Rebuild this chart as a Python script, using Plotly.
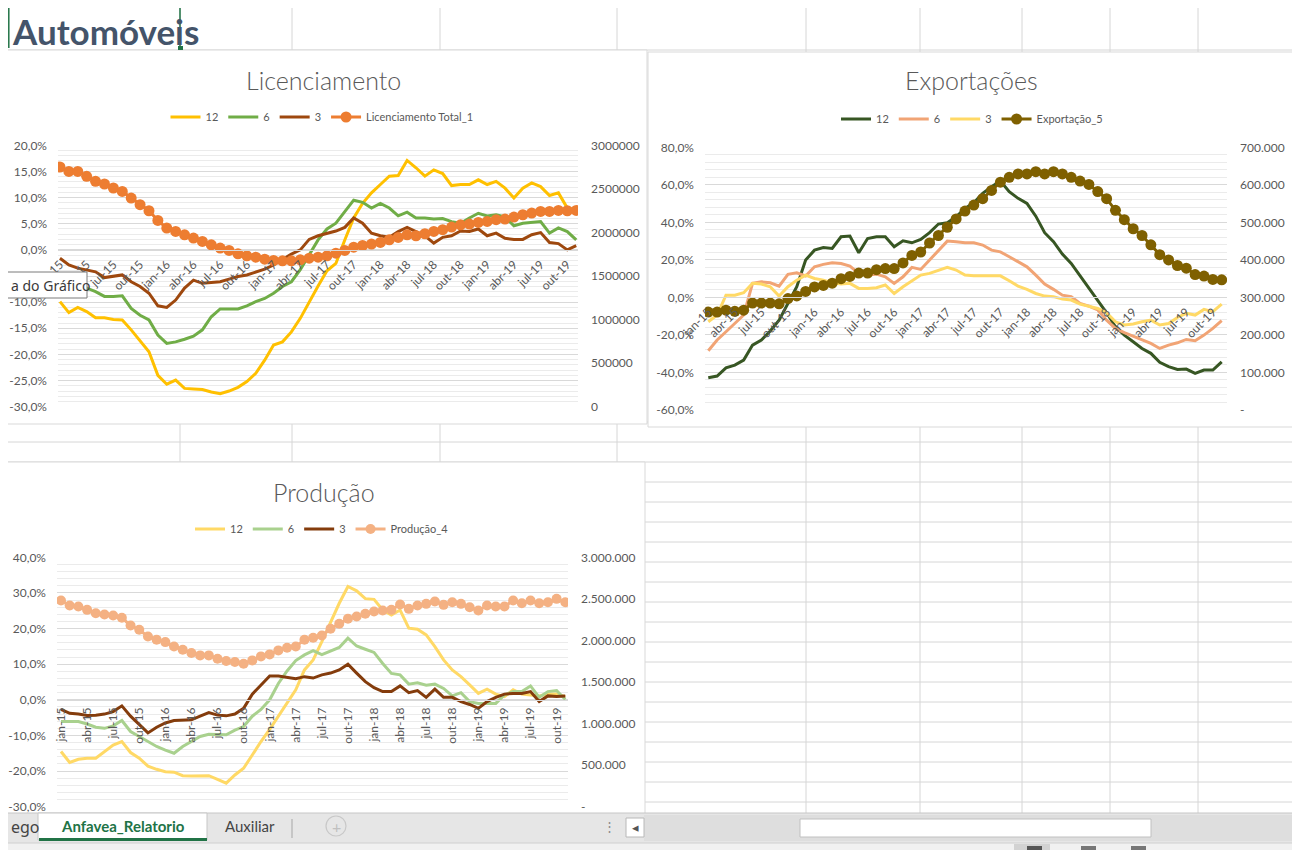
import plotly.graph_objects as go

# The page shows the figure with the browser's default 8 px body margin,
# so the figure is 1292x842 and every screen pixel coordinate is shifted by 8.
OFF = 8
W, H = 1300 - OFF, 850 - OFF

# ---------------- categories ----------------
MESES = ["jan", "fev", "mar", "abr", "mai", "jun", "jul", "ago", "set", "out", "nov", "dez"]
ANOS = ["15", "16", "17", "18", "19"]
categorias = [f"{m}-{a}" for a in ANOS for m in MESES][:59]
rotulos_x = categorias[::3]

# ---------------- Licenciamento ----------------
lic_12 = [-9.9, -12.0, -11.0, -11.8, -13.0, -13.0, -13.3, -13.4, -15.3, -17.3,
          -19.5, -24.0, -25.7, -24.9, -26.5, -26.6, -26.7, -27.2, -27.5, -27.0,
          -26.3, -25.2, -23.6, -21.1, -18.2, -17.6, -15.7, -13.1, -9.9, -6.9,
          -4.0, -2.6, 1.9, 6.1, 8.9, 10.9, 12.5, 14.1, 14.2, 17.1,
          15.7, 14.1, 15.3, 14.6, 12.3, 12.5, 12.5, 13.4, 12.5, 13.1,
          11.8, 9.9, 11.8, 12.8, 12.1, 10.4, 10.9, 8.0, 7.7]
lic_6 = [-4.5, -5.4, -6.1, -7.3, -8.0, -8.9, -8.9, -8.8, -11.2, -12.5,
         -13.4, -16.3, -17.9, -17.6, -17.1, -16.5, -15.3, -12.8, -11.3, -11.3,
         -11.3, -10.7, -9.9, -9.3, -8.3, -7.0, -6.1, -3.8, -1.0, 1.9,
         4.0, 5.1, 7.3, 9.5, 9.1, 8.0, 8.9, 8.0, 6.5, 7.2,
         6.1, 6.1, 5.9, 6.0, 5.4, 5.1, 6.1, 7.0, 6.5, 6.7,
         6.3, 4.6, 5.1, 5.2, 5.4, 3.2, 4.2, 3.5, 1.9]
lic_3 = [-1.6, -2.9, -3.5, -3.8, -4.2, -5.3, -5.1, -4.8, -6.1, -7.0,
         -8.3, -10.7, -11.0, -9.6, -7.3, -5.8, -6.4, -6.3, -6.1, -5.6,
         -5.1, -4.8, -4.3, -3.7, -2.9, -1.8, -0.8, 0.0, 2.0, 2.7,
         3.2, 3.6, 4.3, 6.1, 5.1, 3.2, 2.7, 2.4, 3.5, 4.3,
         3.5, 2.7, 1.3, 2.4, 2.7, 3.6, 3.5, 4.0, 2.7, 3.2,
         2.2, 2.0, 2.0, 2.9, 3.3, 1.4, 1.2, 0.0, 0.8]
lic_total = [2751000, 2700000, 2700000, 2644000, 2586000, 2556000, 2510000, 2471000, 2395000, 2318000,
             2249000, 2138000, 2050000, 2011000, 1973000, 1935000, 1897000, 1858000, 1820000, 1793000,
             1755000, 1732000, 1716000, 1693000, 1678000, 1674000, 1674000, 1686000, 1705000, 1716000,
             1732000, 1762000, 1793000, 1831000, 1850000, 1866000, 1885000, 1916000, 1943000, 1973000,
             1962000, 1985000, 2011000, 2031000, 2061000, 2088000, 2096000, 2115000, 2126000, 2146000,
             2153000, 2176000, 2203000, 2222000, 2241000, 2241000, 2253000, 2249000, 2253000]

# ---------------- Exportações ----------------
exp_12 = [-42.8, -41.9, -37.5, -36.1, -33.4, -25.4, -22.7, -17.9, -12.1, -3.2,
          5.7, 19.9, 25.2, 26.6, 26.1, 32.3, 32.7, 23.8, 31.4, 32.3,
          32.3, 27.0, 30.2, 29.1, 30.9, 34.5, 39.1, 39.8, 43.0, 47.4,
          50.4, 55.5, 59.0, 62.0, 56.3, 52.8, 50.1, 43.3, 34.5, 29.7,
          23.1, 18.1, 11.5, 4.8, -1.8, -8.2, -15.6, -20.1, -23.6, -27.2,
          -29.8, -34.6, -36.9, -38.4, -38.2, -40.5, -38.7, -38.7, -34.3]
exp_6 = [-28.4, -22.7, -18.3, -13.9, -9.4, 7.5, 8.3, 7.8, 6.0, 12.3,
         13.1, 11.4, 16.3, 17.6, 18.5, 18.1, 16.7, 12.8, 11.9, 12.4,
         11.0, 7.5, 11.0, 16.0, 14.9, 19.9, 25.2, 30.0, 29.7, 29.1,
         29.1, 27.9, 25.2, 24.3, 21.7, 19.0, 16.3, 11.9, 7.1, 4.3,
         1.2, 0.4, -3.2, -4.6, -6.7, -12.1, -16.5, -18.8, -20.6, -22.7,
         -24.5, -27.2, -25.4, -24.2, -22.4, -23.1, -20.1, -16.5, -12.4]
exp_3 = [-13.0, -9.4, 1.2, 1.2, 2.5, 7.5, 7.1, 5.7, 0.7, 5.7,
         9.2, 11.9, 10.1, 9.2, 7.8, 7.1, 7.5, 4.8, 4.8, 5.2,
         6.6, 2.1, 5.7, 8.9, 11.9, 12.8, 14.6, 16.0, 14.6, 11.9,
         11.5, 11.5, 11.5, 11.5, 8.9, 6.0, 4.3, 2.1, 0.7, 0.4,
         -0.9, -1.4, -3.6, -4.6, -5.9, -8.2, -13.0, -14.7, -14.2, -13.0,
         -12.1, -14.7, -13.9, -10.7, -8.5, -9.4, -6.4, -7.6, -3.6]
exp_total = [261000, 261000, 266000, 263000, 266000, 285000, 285000, 285000, 283000, 297000,
             304000, 316000, 328000, 332000, 338000, 350000, 356000, 365000, 365000, 374000,
             377000, 377000, 392000, 412000, 421000, 445000, 465000, 487000, 509000, 530000,
             546000, 563000, 585000, 607000, 620000, 629000, 629000, 635000, 629000, 635000,
             629000, 620000, 610000, 601000, 582000, 563000, 532000, 507000, 483000, 465000,
             440000, 414000, 400000, 385000, 378000, 361000, 357000, 348000, 347000]

# ---------------- Produção ----------------
prod_12 = [-14.5, -17.6, -16.7, -16.4, -16.4, -14.5, -12.7, -11.7, -14.8, -16.4,
           -18.6, -19.5, -20.2, -20.3, -21.3, -21.4, -21.3, -21.3, -22.3, -23.4,
           -21.1, -19.2, -15.5, -11.7, -8.3, -4.7, -1.0, 2.8, 8.4, 11.2,
           16.3, 21.9, 27.1, 31.8, 30.6, 28.4, 28.2, 25.2, 23.8, 25.2,
           20.1, 19.8, 18.2, 14.9, 11.2, 8.4, 6.5, 4.2, 1.8, 3.0,
           1.6, 0.9, 2.8, 1.6, 1.4, 1.1, 1.6, 1.6, 0.9]
prod_6 = [-6.1, -6.1, -6.1, -6.8, -7.7, -8.0, -7.3, -5.8, -8.9, -10.3,
          -11.7, -13.1, -14.1, -15.0, -13.1, -11.7, -10.3, -9.7, -9.7, -9.8,
          -8.5, -7.5, -4.6, -2.7, 0.0, 4.6, 8.1, 11.0, 12.6, 13.8,
          12.7, 13.7, 14.7, 17.3, 15.1, 14.2, 13.3, 10.2, 7.4, 7.0,
          4.4, 4.8, 4.1, 4.4, 3.2, 1.1, 2.0, -0.5, -1.0, -1.0,
          -1.0, 1.4, 2.3, 2.3, 3.9, 0.7, 2.3, 2.6, 0.1]
prod_3 = [-2.7, -3.8, -4.0, -4.4, -4.3, -4.0, -3.3, -1.7, -4.6, -7.0,
          -9.3, -7.7, -6.5, -5.8, -5.8, -5.6, -4.6, -3.6, -4.3, -4.5,
          -4.0, -2.4, 1.6, 4.2, 6.7, 6.7, 6.3, 5.9, 6.5, 6.1,
          7.0, 7.5, 8.4, 10.0, 7.5, 5.1, 3.4, 2.3, 2.3, 3.9,
          2.0, 2.6, 0.7, 3.0, 0.7, 0.7, -0.5, -1.3, -2.4, -0.5,
          0.7, 1.6, 1.8, 1.8, 2.3, -0.5, 1.1, 0.9, 1.1]
prod_total = [2480000, 2420000, 2408000, 2368000, 2328000, 2312000, 2300000, 2272000, 2180000, 2128000,
              2048000, 2008000, 1980000, 1928000, 1888000, 1848000, 1820000, 1820000, 1780000, 1752000,
              1740000, 1720000, 1760000, 1808000, 1832000, 1880000, 1912000, 1928000, 2008000, 2032000,
              2060000, 2140000, 2200000, 2260000, 2288000, 2320000, 2348000, 2360000, 2368000, 2432000,
              2380000, 2420000, 2440000, 2468000, 2428000, 2460000, 2440000, 2400000, 2360000, 2420000,
              2408000, 2408000, 2480000, 2448000, 2480000, 2448000, 2460000, 2500000, 2460000]

# ---------------- tick labels ----------------
# (-5,0% sits under the "Área do Gráfico" tooltip in the reference, so it is not visible there)
lic_esq_vals = [-30, -25, -20, -15, -10, -5, 0, 5, 10, 15, 20]
lic_esq_txt = ["-30,0%", "-25,0%", "-20,0%", "-15,0%", "-10,0%", "", "0,0%", "5,0%", "10,0%", "15,0%", "20,0%"]
lic_dir_vals = [0, 500000, 1000000, 1500000, 2000000, 2500000, 3000000]
lic_dir_txt = ["0", "500000", "1000000", "1500000", "2000000", "2500000", "3000000"]

exp_esq_vals = [-60, -40, -20, 0, 20, 40, 60, 80]
exp_esq_txt = ["-60,0%", "-40,0%", "-20,0%", "0,0%", "20,0%", "40,0%", "60,0%", "80,0%"]
exp_dir_vals = [0, 100000, 200000, 300000, 400000, 500000, 600000, 700000]
exp_dir_txt = ["-", "100.000", "200.000", "300.000", "400.000", "500.000", "600.000", "700.000"]

prod_esq_vals = [-30, -20, -10, 0, 10, 20, 30, 40]
prod_esq_txt = ["-30,0%", "-20,0%", "-10,0%", "0,0%", "10,0%", "20,0%", "30,0%", "40,0%"]
prod_dir_vals = [0, 500000, 1000000, 1500000, 2000000, 2500000, 3000000]
prod_dir_txt = ["-", "500.000", "1.000.000", "1.500.000", "2.000.000", "2.500.000", "3.000.000"]

# ---------------- styling ----------------
FONT = "Lato, 'Open Sans', sans-serif"
GRAY = "#595959"
GRID = "#d9d9d9"
MINOR = "#ebebeb"


def fx(p):
    return (p - OFF) / W


def fy(p):
    return 1 - (p - OFF) / H


fig = go.Figure()

charts = [
    dict(name="lic", xa="x", ya="y", ya2="y2", legend="legend",
         series=[("12", lic_12, "#FFC000"), ("6", lic_6, "#70AD47"), ("3", lic_3, "#9E480E")],
         total=("Licenciamento Total_1", lic_total, "#ED7D31", 11)),
    dict(name="exp", xa="x2", ya="y3", ya2="y4", legend="legend2",
         series=[("12", exp_12, "#375623"), ("6", exp_6, "#F1A475"), ("3", exp_3, "#FFD966")],
         total=("Exportação_5", exp_total, "#7F6000", 11)),
    dict(name="prod", xa="x3", ya="y5", ya2="y6", legend="legend3",
         series=[("12", prod_12, "#FFD966"), ("6", prod_6, "#A9D18E"), ("3", prod_3, "#843C0C")],
         total=("Produção_4", prod_total, "#F4B183", 10)),
]

for c in charts:
    for nm, vals, col in c["series"]:
        fig.add_trace(go.Scatter(x=categorias, y=vals, name=nm, mode="lines",
                                 xaxis=c["xa"], yaxis=c["ya"], legend=c["legend"],
                                 line=dict(color=col, width=3), hoverinfo="skip"))
    nm, vals, col, ms = c["total"]
    fig.add_trace(go.Scatter(x=categorias, y=vals, name=nm, mode="lines+markers",
                             xaxis=c["xa"], yaxis=c["ya2"], legend=c["legend"],
                             line=dict(color=col, width=3),
                             marker=dict(color=col, size=ms, line=dict(width=0)),
                             hoverinfo="skip"))


def zero_pos(dom, rng):
    return dom[0] + (0 - rng[0]) / (rng[1] - rng[0]) * (dom[1] - dom[0])


tickfont = dict(family=FONT, size=12, color=GRAY)

# geometry (screen pixels) for each plot area
geo = {
    "lic": dict(x0=58, x1=578, ytop=145.3, ybot=406.7, xr=[-0.22, 58.2], yr=[-30, 20], yr2=[0, 3000000],
                ev=lic_esq_vals, et=lic_esq_txt, dv=lic_dir_vals, dt=lic_dir_txt, minor=1, angle=-45),
    "exp": dict(x0=705, x1=1227, ytop=147.3, ybot=410.0, xr=[-0.37, 58.6], yr=[-60, 80], yr2=[0, 700000],
                ev=exp_esq_vals, et=exp_esq_txt, dv=exp_dir_vals, dt=exp_dir_txt, minor=4, angle=-45),
    "prod": dict(x0=57, x1=568, ytop=557.3, ybot=806.7, xr=[-0.46, 58.31], yr=[-30, 40], yr2=[0, 3000000],
                 ev=prod_esq_vals, et=prod_esq_txt, dv=prod_dir_vals, dt=prod_dir_txt, minor=2, angle=-90),
}

axes = {}
for c in charts:
    g = geo[c["name"]]
    xdom = [fx(g["x0"]), fx(g["x1"])]
    ydom = [fy(g["ybot"]), fy(g["ytop"])]
    xkey = "xaxis" + c["xa"][1:]
    ykey = "yaxis" + c["ya"][1:]
    y2key = "yaxis" + c["ya2"][1:]
    axes[xkey] = dict(domain=xdom, range=g["xr"], anchor="free", position=zero_pos(ydom, g["yr"]),
                      type="category", showgrid=False, showline=True, linecolor=GRID, linewidth=1,
                      tickmode="array", tickvals=rotulos_x, tickangle=g["angle"], ticks="",
                      tickfont=tickfont, zeroline=False, fixedrange=True, ticklabelstandoff=2,
                      automargin=False)
    axes[ykey] = dict(domain=ydom, range=g["yr"], anchor=c["xa"], tickmode="array",
                      tickvals=g["ev"], ticktext=g["et"], showgrid=True, gridcolor=GRID, gridwidth=1,
                      minor=dict(dtick=g["minor"], tick0=0, showgrid=True, gridcolor=MINOR, gridwidth=1),
                      zeroline=False, showline=False, ticks="", tickfont=tickfont,
                      ticklabelstandoff=10, fixedrange=True, automargin=False)
    axes[y2key] = dict(domain=ydom, range=g["yr2"], anchor=c["xa"], overlaying=c["ya"], side="right",
                       tickmode="array", tickvals=g["dv"], ticktext=g["dt"], showgrid=False,
                       zeroline=False, showline=False, ticks="", tickfont=tickfont,
                       ticklabelstandoff=12, fixedrange=True, automargin=False)

# ---------------- shapes: excel sheet ----------------
shapes = []
CELL = "#d6d6d6"


def rect(x0, y0, x1, y1, fill, line=None, lw=1, layer="above"):
    shapes.append(dict(type="rect", xref="paper", yref="paper", x0=fx(x0), x1=fx(x1),
                       y0=fy(y1), y1=fy(y0), fillcolor=fill,
                       line=dict(color=line, width=lw) if line else dict(width=0), layer=layer))


def seg(x0, y0, x1, y1, color, lw=1, layer="above"):
    shapes.append(dict(type="line", xref="paper", yref="paper", x0=fx(x0), x1=fx(x1),
                       y0=fy(y0), y1=fy(y1), line=dict(color=color, width=lw), layer=layer))


rows = [50] + list(range(422, 812, 20))
for r in rows:
    seg(0, r, 1300, r, CELL, layer="below")
cols = [180, 292, 440, 617, 806, 920, 1022, 1110, 1198, 1295]
for cx in cols:
    seg(cx, 0, cx, 813, CELL, layer="below")
# chart areas
for (a, b, c_, d) in [(2, 50, 647, 424), (648, 52, 1297, 427), (1, 462, 645, 815)]:
    rect(a, b, c_, d, "white", "#d9d9d9", layer="below")
# selected-cell cursor
seg(180, 0, 180, 48, "#217346", 1.5)
seg(8.8, 0, 8.8, 48, "#217346", 1.5)
rect(178, 46, 183, 50, "#217346")
# tooltip box
rect(-3, 272, 87, 298, "white", "#7a7a7a")
# tab bar
rect(0, 813, 1300, 843, "#e6e6e6")
seg(0, 813, 1300, 813, "#c6c6c6")
rect(38, 813, 207, 840, "white", "#c6c6c6")
rect(39, 838, 207, 841, "#217346")
seg(292, 819, 292, 838, "#a6a6a6")
shapes.append(dict(type="circle", xref="paper", yref="paper", x0=fx(326), x1=fx(346), y0=fy(836), y1=fy(816),
                   line=dict(color="#c8c8c8", width=1.2), layer="above"))
rect(644, 815, 1300, 841, "#dedede")
rect(626, 818, 644, 837, "white", "#b8b8b8")
rect(800, 819, 1151, 837, "white", "#c0c0c0")
rect(0, 843, 1300, 850, "#f1f1f1")
seg(0, 843, 1300, 843, "#d0d0d0")
rect(1014, 844, 1050, 850, "#d2d2d2")
for ix in (1027, 1081, 1131):
    rect(ix, 846, ix + 15, 850, "#555555" if ix == 1027 else "#777777")

# ---------------- annotations ----------------
ann = []


def text(x, y, s, size, color, family=FONT, weight=None, xanchor="center", yanchor="middle"):
    f = dict(family=family, size=size, color=color)
    if weight:
        f["weight"] = weight
    ann.append(dict(x=fx(x), y=fy(y), xref="paper", yref="paper", text=s, showarrow=False,
                    xanchor=xanchor, yanchor=yanchor, font=f))


text(10, 8, "Automóveis", 35, "#44546A", weight=700, xanchor="left", yanchor="top")
text(323, 80, "Licenciamento", 25, GRAY, weight=300)
text(972, 80, "Exportações", 25, GRAY, weight=300)
text(324, 492, "Produção", 25, GRAY, weight=300)
text(9, 285, "a do Gráfico", 14, "#3a3a3a", family="'Noto Sans', sans-serif", xanchor="left")
text(9, 827, "ego", 16, "#444444", family="'Noto Sans', sans-serif", xanchor="left")
text(123, 826, "Anfavea_Relatorio", 15, "#217346", weight=700)
text(250, 826, "Auxiliar", 15, "#444444")
text(336, 826, "+", 16, "#c0c0c0")
text(609, 826, "⋮", 13, "#8a8a8a")
text(635, 827, "◂", 13, "#555555")

legend_common = dict(orientation="h", xanchor="center", yanchor="middle", bgcolor="rgba(0,0,0,0)",
                     font=dict(family=FONT, size=11, color=GRAY), itemwidth=30, traceorder="normal",
                     itemclick=False, itemdoubleclick=False)

fig.update_layout(
    width=W, height=H, margin=dict(l=0, r=0, t=0, b=0, autoexpand=False),
    paper_bgcolor="white", plot_bgcolor="rgba(0,0,0,0)",
    showlegend=True,
    legend=dict(x=fx(322), y=fy(117), **legend_common),
    legend2=dict(x=fx(972), y=fy(119), **legend_common),
    legend3=dict(x=fx(322), y=fy(529), **legend_common),
    shapes=shapes, annotations=ann,
    font=dict(family=FONT, color=GRAY),
    **axes,
)

fig.write_html("out.html")
